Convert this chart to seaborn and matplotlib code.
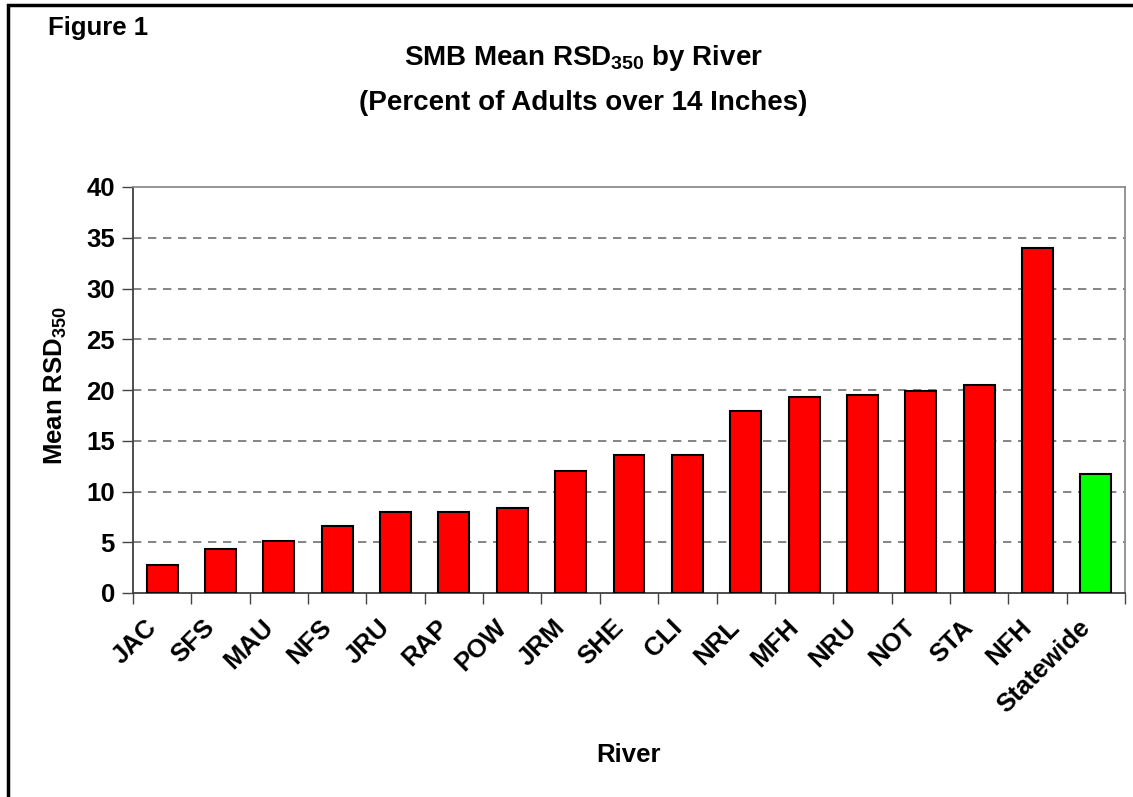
import seaborn as sns
import pandas as pd
import matplotlib.pyplot as plt
from matplotlib.patches import Rectangle
from matplotlib.transforms import ScaledTranslation

rivers = ["JAC", "SFS", "MAU", "NFS", "JRU", "RAP", "POW", "JRM", "SHE",
          "CLI", "NRL", "MFH", "NRU", "NOT", "STA", "NFH", "Statewide"]
rsd350 = [2.8, 4.3, 5.1, 6.6, 8.0, 8.0, 8.4, 12.0, 13.6,
          13.6, 17.9, 19.3, 19.5, 19.9, 20.5, 34.0, 11.7]
bar_colors = ["#ff0000"] * 16 + ["#00ff00"]
y_ticks = [0, 5, 10, 15, 20, 25, 30, 35, 40]


def main():
    sns.set_style("white")
    plt.rcParams['font.family'] = ['Liberation Sans', 'DejaVu Sans']
    plt.rcParams['font.weight'] = 'bold'
    plt.rcParams['mathtext.fontset'] = 'custom'
    plt.rcParams['mathtext.rm'] = 'Liberation Sans:bold'
    plt.rcParams['mathtext.bf'] = 'Liberation Sans:bold'
    plt.rcParams['mathtext.default'] = 'bf'
    for key in ['text.color', 'axes.labelcolor', 'xtick.color', 'ytick.color']:
        plt.rcParams[key] = 'black'

    df = pd.DataFrame({"river": rivers, "rsd": rsd350})

    fig = plt.figure(figsize=(11.33, 7.97), dpi=100)
    ax = fig.add_axes([133 / 1133, 1 - 593 / 797, (1125 - 133) / 1133, (593 - 187) / 797])

    sns.barplot(data=df, x="river", y="rsd", hue="river", palette=bar_colors,
                width=0.53, edgecolor="black", linewidth=1.5, legend=False,
                saturation=1, ax=ax, zorder=3)

    ax.set_ylim(0, 40)
    ax.set_xlim(-0.5, len(rivers) - 0.5)
    ax.set_yticks(y_ticks)
    ax.tick_params(axis="y", labelsize=18.5, length=8, width=1, color="#444444",
                   direction="out", left=True, pad=5)
    for lab in ax.get_yticklabels():
        lab.set_fontweight("bold")

    # category boundaries carry the x ticks
    ax.set_xticks([i + 0.5 for i in range(-1, len(rivers))], minor=True)
    ax.tick_params(axis="x", which="minor", length=8, width=1, color="#444444",
                   direction="out", bottom=True)
    ax.tick_params(axis="x", which="major", length=0, labelsize=18.5, pad=16)
    ax.set_xticks(range(len(rivers)))
    ax.set_xticklabels(rivers, rotation=45, ha="right", rotation_mode="anchor",
                       fontweight="bold")
    shift = ScaledTranslation(-18 / 100, 0, fig.dpi_scale_trans)
    for lab in ax.get_xticklabels():
        lab.set_transform(lab.get_transform() + shift)

    for y in y_ticks[1:-1]:
        ax.axhline(y, color="#707070", linestyle=(0, (5, 4)), linewidth=1.2, zorder=1)

    for side in ["left", "bottom"]:
        ax.spines[side].set_color("#404040")
        ax.spines[side].set_linewidth(1.3)
    for side in ["top", "right"]:
        ax.spines[side].set_visible(True)
        ax.spines[side].set_color("#8c8c8c")
        ax.spines[side].set_linewidth(1.3)

    ax.set_xlabel("River", fontsize=18.5, fontweight="bold", labelpad=0)
    ax.xaxis.set_label_coords(0.5, -0.37)
    ax.set_ylabel("Mean RSD$_{350}$", fontsize=18.5, fontweight="bold")
    ax.yaxis.set_label_coords(-0.065, 0.51)

    fig.text(583 / 1133, 1 - 58 / 797, "SMB Mean RSD$_{350}$ by River",
             ha="center", va="center", fontsize=20, fontweight="bold")
    fig.text(583 / 1133, 1 - 103 / 797, "(Percent of Adults over 14 Inches)",
             ha="center", va="center", fontsize=20, fontweight="bold")
    fig.text(48 / 1133, 1 - 28 / 797, "Figure 1", ha="left", va="center",
             fontsize=18.5, fontweight="bold")

    fig.patches.append(Rectangle((8 / 1133, -0.05), 1.1, 1 - 5 / 797 + 0.05,
                                 transform=fig.transFigure, fill=False,
                                 edgecolor="black", linewidth=2.5))

    plt.savefig("out.png", dpi=100)
    plt.close()


if __name__ == '__main__':
    main()
